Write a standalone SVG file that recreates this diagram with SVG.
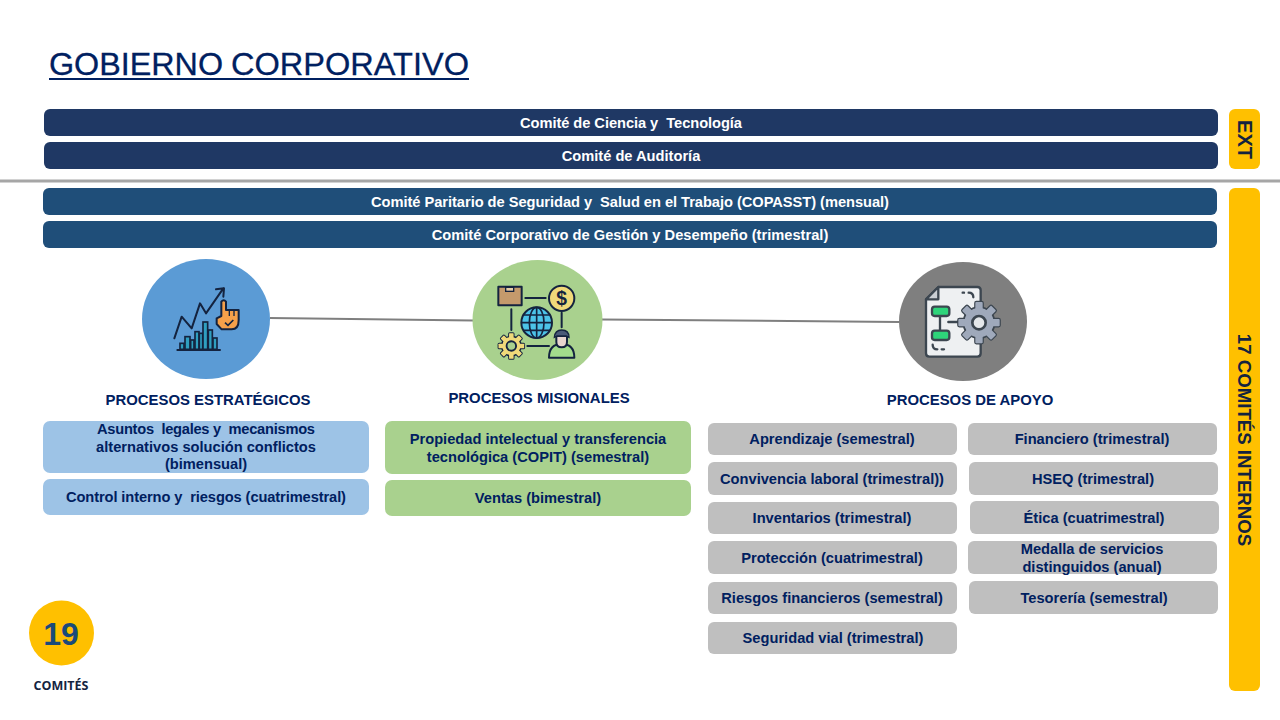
<svg xmlns="http://www.w3.org/2000/svg" width="1280" height="720" viewBox="0 0 1280 720">
<style>
text{font-family:"Liberation Sans",Arial,sans-serif;font-weight:700;text-anchor:middle;white-space:pre}
.w{fill:#fff;font-size:14.67px}
.n{fill:#002060;font-size:14.67px}
.h{fill:#002060;font-size:14.9px}
.ext{fill:#1f3864}.int{fill:#1f4e79}.y{fill:#ffc000}
.lb{fill:#9dc3e6}.lg{fill:#a9d18e}.gr{fill:#bfbfbf}
.ic{stroke:#14233f;stroke-width:6;stroke-linejoin:round;stroke-linecap:round}
.ig{stroke:#3c4650;stroke-width:7;stroke-linejoin:round;stroke-linecap:round}
</style>
<defs>
<g id="teeth"><rect x="-11" y="-62" width="22" height="124" rx="3"/><rect x="-11" y="-62" width="22" height="124" rx="3" transform="rotate(45)"/><rect x="-11" y="-62" width="22" height="124" rx="3" transform="rotate(90)"/><rect x="-11" y="-62" width="22" height="124" rx="3" transform="rotate(135)"/></g>
</defs>
<rect width="1280" height="720" fill="#fff"/>
<text y="75" style="font-weight:400;font-size:32px;fill:#002060;text-anchor:start;stroke:#002060;stroke-width:.3"><tspan x="49" textLength="174" lengthAdjust="spacingAndGlyphs">GOBIERNO</tspan><tspan x="231" textLength="238" lengthAdjust="spacingAndGlyphs">CORPORATIVO</tspan></text>
<rect x="49" y="78" width="420" height="2" fill="#002060"/>
<g id="connectors" fill="none" stroke="#7f7f7f" stroke-width="2">
<line x1="270" y1="318" x2="473" y2="320.5"/>
<line x1="602" y1="319.5" x2="899" y2="322"/>
<line x1="0" y1="181" x2="1280" y2="181" stroke="#a6a6a6" stroke-width="3"/>
</g>
<g id="top-bars">
<g id="n-ciencia"><rect class="ext" x="44" y="109" width="1174" height="27" rx="6"/><text class="w" x="631" y="127.500" textLength="222">Comité de Ciencia y  Tecnología</text></g>
<g id="n-auditoria"><rect class="ext" x="44" y="142" width="1174" height="27" rx="6"/><text class="w" x="631" y="160.500">Comité de Auditoría</text></g>
<g id="n-copasst"><rect class="int" x="43" y="188" width="1174" height="27" rx="6"/><text class="w" x="630" y="206.500" textLength="518">Comité Paritario de Seguridad y  Salud en el Trabajo (COPASST) (mensual)</text></g>
<g id="n-gestion"><rect class="int" x="43" y="221" width="1174" height="27" rx="6"/><text class="w" x="630" y="239.500">Comité Corporativo de Gestión y Desempeño (trimestral)</text></g>
</g>
<g id="n-ext"><rect class="y" x="1229" y="109" width="31" height="60" rx="6"/><text transform="translate(1237.500 139.500) rotate(90)" style="font-size:20px;fill:#14233f">EXT</text></g>
<g id="n-internos"><rect class="y" x="1229" y="188" width="31" height="503" rx="6"/><text transform="translate(1238 440) rotate(90)" style="font-size:18.67px;fill:#14233f">17 COMITÉS INTERNOS</text></g>

<g id="n-estrategicos">
<ellipse cx="206" cy="319" rx="64" ry="60" fill="#5b9bd5"/>
<g transform="translate(130 250) scale(.33333)">
<g fill="#2f9fc0" stroke="#14233f" stroke-width="5"><rect x="150" y="280" width="12" height="18"/><rect x="165" y="260" width="15" height="38"/><rect x="182" y="270" width="10" height="28"/><rect x="195" y="245" width="12" height="53"/><rect x="208" y="250" width="10" height="48"/><rect x="219" y="216" width="14" height="82"/><rect x="235" y="240" width="12" height="58"/><rect x="249" y="264" width="12" height="34"/></g>
<path class="ic" fill="none" d="M133 265L155 200L185 235L210 160L228 190L280 115M258 118L282 115L280 140M142 300H270"/>
<path class="ic" fill="#f5a04a" d="M274 155Q281 146 288 155V180H326V210Q326 238 305 238H275L260 222V205L274 198Z"/>
<path d="M298 180V198M312 180V198" stroke="#14233f" stroke-width="4"/>
<path d="M285 218L294 226L310 210" stroke="#14233f" stroke-width="5" fill="none"/>
</g>
<text class="h" x="208" y="405">PROCESOS ESTRATÉGICOS</text>
</g>

<g id="n-misionales">
<ellipse cx="537.500" cy="320" rx="65" ry="60" fill="#a9d18e"/>
<g transform="translate(465 250) scale(.33333)">
<path class="ic" fill="none" d="M181 144H242M139 178V240M290 188V232M187 288H252"/>
<rect class="ic" x="100" y="110" width="70" height="56" fill="#c49a6c"/>
<rect x="122" y="112" width="24" height="12" fill="#e5cda8" stroke="#14233f" stroke-width="4"/>
<circle class="ic" cx="290" cy="145" r="38" fill="#f0d97a"/>
<text x="290" y="166" style="font-size:58px;fill:#14233f">$</text>
<circle class="ic" cx="215" cy="218" r="46" fill="#4cc3e8"/>
<ellipse cx="215" cy="218" rx="22" ry="46" fill="none" stroke="#14233f" stroke-width="5"/>
<path d="M169 218H261M176 195H254M176 241H254M215 172V264" stroke="#14233f" stroke-width="5" fill="none"/>
<g transform="translate(139 288) scale(.62)" fill="#f0d97a">
<use href="#teeth" stroke="#14233f" stroke-width="9"/>
<circle r="46" stroke="#14233f" stroke-width="9"/>
<use href="#teeth"/>
<circle r="44"/>
<circle r="23" fill="#a9d18e" stroke="#14233f" stroke-width="9"/>
</g>
<path class="ic" fill="#a3dc8c" d="M252 323Q252 282 290 282Q328 282 328 323Z"/>
<path class="ic" fill="#e8d5cf" d="M274 258H306V276Q306 292 290 292Q274 292 274 276Z"/>
<path fill="#4a5a78" stroke="#14233f" stroke-width="4" d="M268 262Q270 240 290 240Q312 240 312 262L304 258H276Z"/>
</g>
<text class="h" x="539" y="403">PROCESOS MISIONALES</text>
</g>

<g id="n-apoyo">
<ellipse cx="963" cy="321.500" rx="64" ry="59.500" fill="#7f7f7f"/>
<g transform="translate(890 250) scale(.33333)">
<path class="ig" fill="#eef0f2" d="M145 111H262Q272 111 272 121V310Q272 320 262 320H118Q108 320 108 310V148Z"/>
<path class="ig" fill="#c9ced3" d="M145 111V148H108Z"/>
<path class="ig" fill="none" d="M150 200V245M175 216H205M218 128H222M236 128Q250 128 250 142M128 284Q128 298 142 298M155 298H162"/>
<rect class="ig" x="126" y="170" width="52" height="28" rx="8" fill="#2ed47a"/>
<rect class="ig" x="126" y="242" width="52" height="28" rx="8" fill="#2ed47a"/>
<g transform="translate(267 218)" fill="#9fa9bb">
<use href="#teeth" stroke="#3c4650" stroke-width="7"/>
<circle r="46" stroke="#3c4650" stroke-width="7"/>
<use href="#teeth"/>
<circle r="44"/>
<circle r="20" fill="#e4e7ea" stroke="#3c4650" stroke-width="8"/>
</g>
</g>
<text class="h" x="970" y="405">PROCESOS DE APOYO</text>
</g>

<g id="n-asuntos"><rect class="lb" x="43" y="421" width="326" height="52" rx="7"/><text class="n" x="206" y="434" textLength="218">Asuntos  legales y  mecanismos</text><text class="n" x="206" y="452">alternativos solución conflictos</text><text class="n" x="206" y="469">(bimensual)</text></g>
<g id="n-control"><rect class="lb" x="43" y="479" width="326" height="36" rx="7"/><text class="n" x="206" y="502" textLength="280">Control interno y  riesgos (cuatrimestral)</text></g>
<g id="n-propiedad"><rect class="lg" x="385" y="421" width="306" height="53" rx="7"/><text class="n" x="538" y="444">Propiedad intelectual y transferencia</text><text class="n" x="538" y="462">tecnológica (COPIT) (semestral)</text></g>
<g id="n-ventas"><rect class="lg" x="385" y="480" width="306" height="36" rx="7"/><text class="n" x="538" y="503">Ventas (bimestral)</text></g>

<g id="n-aprendizaje"><rect class="gr" x="708" y="423" width="249" height="32" rx="6"/><text class="n" x="832" y="444">Aprendizaje (semestral)</text></g>
<g id="n-convivencia"><rect class="gr" x="708" y="462" width="249" height="33" rx="6"/><text class="n" x="832" y="484">Convivencia laboral (trimestral))</text></g>
<g id="n-inventarios"><rect class="gr" x="708" y="502" width="249" height="32" rx="6"/><text class="n" x="832" y="523">Inventarios (trimestral)</text></g>
<g id="n-proteccion"><rect class="gr" x="708" y="541" width="249" height="33" rx="6"/><text class="n" x="832" y="563">Protección (cuatrimestral)</text></g>
<g id="n-riesgos"><rect class="gr" x="708" y="582" width="249" height="32" rx="6"/><text class="n" x="832" y="603">Riesgos financieros (semestral)</text></g>
<g id="n-seguridad"><rect class="gr" x="708" y="622" width="249" height="32" rx="6"/><text class="n" x="833" y="643">Seguridad vial (trimestral)</text></g>
<g id="n-financiero"><rect class="gr" x="968" y="423" width="249" height="32" rx="6"/><text class="n" x="1092" y="444">Financiero (trimestral)</text></g>
<g id="n-hseq"><rect class="gr" x="969" y="462" width="249" height="33" rx="6"/><text class="n" x="1093" y="484">HSEQ (trimestral)</text></g>
<g id="n-etica"><rect class="gr" x="970" y="501" width="249" height="33" rx="6"/><text class="n" x="1094" y="523">Ética (cuatrimestral)</text></g>
<g id="n-medalla"><rect class="gr" x="968" y="541" width="249" height="33" rx="6"/><text class="n" x="1092" y="554">Medalla de servicios</text><text class="n" x="1092" y="572">distinguidos (anual)</text></g>
<g id="n-tesoreria"><rect class="gr" x="969" y="581" width="249" height="33" rx="6"/><text class="n" x="1094" y="603">Tesorería (semestral)</text></g>

<g id="n-total"><circle class="y" cx="61.500" cy="633" r="32.500"/><text x="61" y="645" style="font-size:32px;fill:#1a4a7a">19</text><text x="61" y="690" style="font-family:'Open Sans','Liberation Sans',sans-serif;font-size:12.500px;fill:#14233f">COMITÉS</text></g>
</svg>
